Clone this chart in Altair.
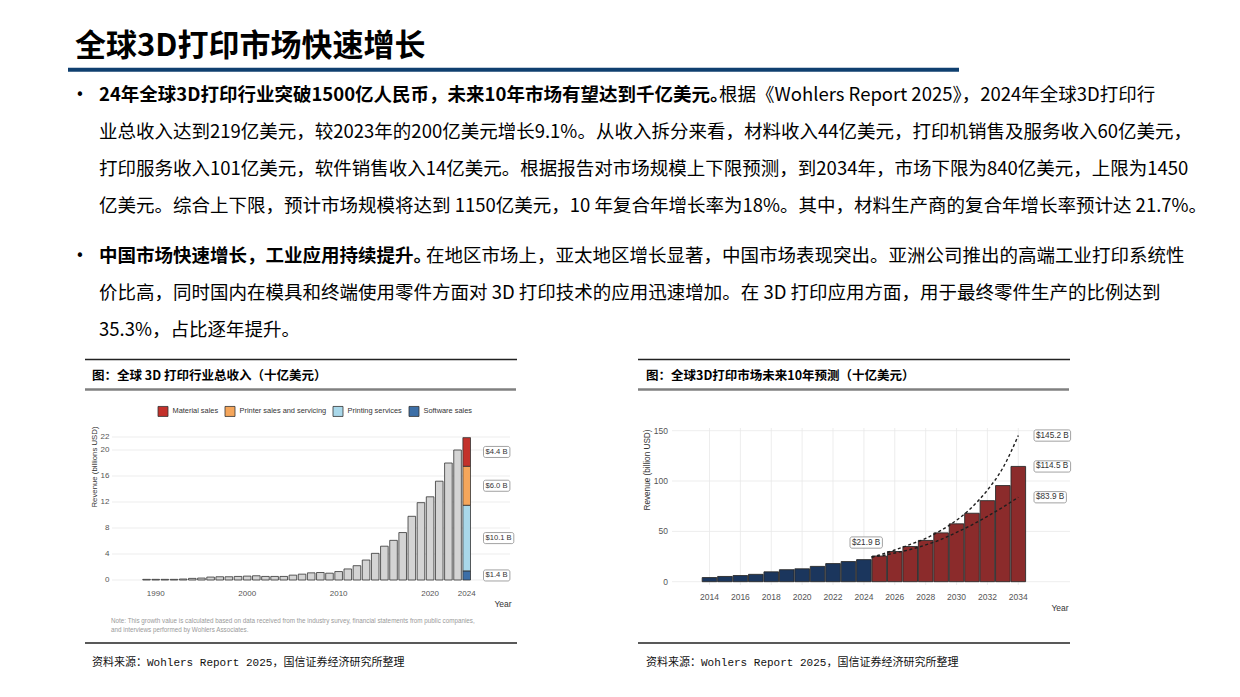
import altair as alt
import pandas as pd

# ---------------- text content ----------------
title_text = "全球3D打印市场快速增长"
p1_bold = "24年全球3D打印行业突破1500亿人民币，未来10年市场有望达到千亿美元。"
p1_rest = "根据《Wohlers Report 2025》，2024年全球3D打印行"
p1_lines = [
    "业总收入达到219亿美元，较2023年的200亿美元增长9.1%。从收入拆分来看，材料收入44亿美元，打印机销售及服务收入60亿美元，",
    "打印服务收入101亿美元，软件销售收入14亿美元。根据报告对市场规模上下限预测，到2034年，市场下限为840亿美元，上限为1450",
    "亿美元。综合上下限，预计市场规模将达到 1150亿美元，10 年复合年增长率为18%。其中，材料生产商的复合年增长率预计达 21.7%。",
]
p2_bold = "中国市场快速增长，工业应用持续提升。"
p2_rest = "在地区市场上，亚太地区增长显著，中国市场表现突出。亚洲公司推出的高端工业打印系统性"
p2_lines = [
    "价比高，同时国内在模具和终端使用零件方面对 3D 打印技术的应用迅速增加。在 3D 打印应用方面，用于最终零件生产的比例达到",
    "35.3%，占比逐年提升。",
]
left_title = "图：全球 3D 打印行业总收入（十亿美元）"
right_title = "图：全球3D打印市场未来10年预测（十亿美元）"
source_text = "资料来源：Wohlers Report 2025，国信证券经济研究所整理"
note_lines = [
    "Note: This growth value is calculated based on data received from the industry survey, financial statements from public companies,",
    "and interviews performed by Wohlers Associates.",
]

# ---------------- left chart data ----------------
hist_years = list(range(1989, 2024))
hist_rev = [0.1, 0.1, 0.1, 0.1, 0.15, 0.25, 0.3, 0.45, 0.5, 0.5, 0.55, 0.6, 0.65, 0.55,
            0.55, 0.55, 0.75, 0.9, 1.1, 1.15, 1.05, 1.3, 1.7, 2.2, 3.07, 4.1, 5.2, 6.1,
            7.3, 9.8, 11.9, 12.8, 15.2, 18.0, 20.0]
seg_year = 2024
seg_names = ["Material sales", "Printer sales and servicing", "Printing services", "Software sales"]
seg_colors = ["#c3312b", "#f5a65b", "#a9d8ea", "#3d6fa7"]
seg_values = [4.4, 6.0, 10.1, 1.4]
seg_labels = ["$4.4 B", "$6.0 B", "$10.1 B", "$1.4 B"]
left_yticks = [0, 4, 8, 12, 16, 20, 22]
left_xticks = [1990, 2000, 2010, 2020, 2024]

# ---------------- right chart data ----------------
fc_years = list(range(2014, 2035))
fc_rev = [4.1, 5.2, 6.1, 7.3, 9.8, 11.9, 12.8, 15.2, 18.0, 20.0, 21.9,
          25.5, 30.0, 35.0, 41.0, 48.5, 57.5, 68.0, 80.5, 95.5, 114.5]
fc_period = ["历史"] * 11 + ["预测"] * 10
period_names = ["历史", "预测"]
period_colors = ["#1b365d", "#8b2b2b"]
bound_years = [2024.5, 2025, 2026, 2027, 2028, 2029, 2030, 2031, 2032, 2033, 2034]
upper_vals = [24.5, 26.5, 31.5, 37.0, 43.0, 51.0, 61.0, 74.0, 91.0, 113.0, 145.2]
lower_vals = [24.5, 25.5, 28.5, 32.0, 36.5, 42.0, 49.0, 56.5, 65.0, 74.0, 83.9]
right_labels = ["$145.2 B", "$114.5 B", "$83.9 B", "$21.9 B"]
right_label_vals = [145.2, 114.5, 83.9, 21.9]
right_yticks = [0, 50, 100, 150]
right_xticks = list(range(2014, 2035, 2))

# ---------------- styles ----------------
CJK = "Noto Sans CJK SC"
SANS = "Liberation Sans"
MONO = "Liberation Mono, Noto Sans CJK SC"
M = 8  # page margin


def P(v):
    return v - M


def one(s=""):
    return alt.Data(values=[{"t": s}])


def text_at(s, x, y, size, weight="normal", color="#000000", font=CJK, align="left", angle=0):
    return alt.Chart(one(s)).mark_text(
        align=align, baseline="middle", fontSize=size, fontWeight=weight,
        color=color, font=font, angle=angle
    ).encode(x=alt.value(P(x)), y=alt.value(P(y)), text="t:N")


def hline(x1, x2, y, color, width):
    return alt.Chart(one()).mark_rule(color=color, strokeWidth=width).encode(
        x=alt.value(P(x1)), x2=alt.value(P(x2)), y=alt.value(P(y)))


layers = []
# header
layers.append(text_at(title_text, 75, 47, 31, weight="bold"))
layers.append(hline(68, 959, 69.7, "#0f3f6f", 4))
layers.append(text_at("•", 75.5, 95, 15, font="DejaVu Sans"))
layers.append(text_at(p1_bold, 99, 95, 18.5, weight="bold"))
layers.append(text_at(p1_rest, 719, 95, 18.5))
for i, s in enumerate(p1_lines):
    layers.append(text_at(s, 99, 132 + i * 37, 18.5))
layers.append(text_at("•", 75.5, 256, 15, font="DejaVu Sans"))
layers.append(text_at(p2_bold, 99, 256, 18.5, weight="bold"))
layers.append(text_at(p2_rest, 426, 256, 18.5))
for i, s in enumerate(p2_lines):
    layers.append(text_at(s, 99, 293 + i * 37, 18.5))

# panel frames
for (x1, x2, tx, ttl) in [(85, 517, 92, left_title), (638, 1070, 646, right_title)]:
    layers.append(hline(x1, x2, 359.5, "#222222", 1.3))
    layers.append(text_at(ttl, tx, 376, 12.5, weight="bold"))
    layers.append(hline(x1, x2 - 1, 389.5, "#808080", 2.6))
    layers.append(hline(x1, x2, 643, "#222222", 1.3))
    layers.append(text_at(source_text, tx, 663, 11, font=MONO, color="#111111"))

# ---------------- left chart ----------------
xL = alt.Scale(domain=[1990, 2024], range=[P(150.7), P(471.7)], zero=False, nice=False)
yL = alt.Scale(domain=[0, 22], range=[P(580), P(437)], zero=False, nice=False)

hist_df = pd.DataFrame({"year": hist_years, "rev": hist_rev})
order = list(reversed(range(len(seg_names))))  # bottom: software
cum = 0.0
rows = []
for idx in order:
    rows.append({"year": seg_year, "seg": seg_names[idx], "y0": cum,
                 "y1": cum + seg_values[idx], "label": seg_labels[idx]})
    cum += seg_values[idx]
seg_df = pd.DataFrame(rows)
seg_df["mid"] = (seg_df["y0"] + seg_df["y1"]) / 2

lgrid = alt.Chart(pd.DataFrame({"v": left_yticks})).mark_rule(color="#e8e8e8", strokeWidth=0.8).encode(
    x=alt.value(P(112)), x2=alt.value(P(510)), y=alt.Y("v:Q", scale=yL, axis=None))
lylab = alt.Chart(pd.DataFrame({"v": left_yticks})).mark_text(
    align="right", baseline="middle", fontSize=8, font=SANS, color="#555555").encode(
    x=alt.value(P(109.5)), y=alt.Y("v:Q", scale=yL, axis=None), text="v:Q")
lxlab = alt.Chart(pd.DataFrame({"v": left_xticks})).mark_text(
    align="center", baseline="middle", fontSize=8, font=SANS, color="#555555").encode(
    x=alt.X("v:Q", scale=xL, axis=None), y=alt.value(P(593.5)), text="v:N")
lbars = alt.Chart(hist_df).mark_bar(size=7.6, fill="#d4d4d4", stroke="#333333", strokeWidth=0.8).encode(
    x=alt.X("year:Q", scale=xL, axis=None), y=alt.Y("rev:Q", scale=yL, axis=None))
lstack = alt.Chart(seg_df).mark_bar(size=7.6, stroke="#333333", strokeWidth=0.8).encode(
    x=alt.X("year:Q", scale=xL, axis=None),
    y=alt.Y("y0:Q", scale=yL, axis=None), y2="y1:Q",
    color=alt.Color("seg:N", scale=alt.Scale(domain=seg_names, range=seg_colors),
                    legend=alt.Legend(orient="none", legendX=P(157.5), legendY=P(405.5),
                                      direction="horizontal", title=None, symbolType="square",
                                      symbolSize=100, symbolStrokeColor="#333333",
                                      symbolStrokeWidth=0.8, labelFontSize=7.4, labelFont=SANS,
                                      labelColor="#333333", columnPadding=4, labelOffset=4,
                                      padding=0, symbolOpacity=1)))
lbox = alt.Chart(seg_df).transform_calculate(
    lo="datum.mid - 0.85", hi="datum.mid + 0.85",
    bx0=str(P(483.5)), bx1=f"{P(483.5)} + length(datum.label) * 3.9 + 3").mark_rect(
    fill="#ffffff", stroke="#8a8a8a", strokeWidth=0.8, cornerRadius=2).encode(
    x=alt.X("bx0:Q", scale=None), x2="bx1:Q",
    y=alt.Y("lo:Q", scale=yL, axis=None), y2="hi:Q")
ltext = alt.Chart(seg_df).mark_text(align="left", baseline="middle", fontSize=7.6, font=SANS,
                                   color="#333333").encode(
    x=alt.value(P(485.5)), y=alt.Y("mid:Q", scale=yL, axis=None), text="label:N")

left = alt.layer(lgrid, lylab, lxlab, lbars, lstack, lbox, ltext)
layers.append(left)
layers.append(text_at("Revenue (billions USD)", 95, 467, 7.8, font=SANS, color="#333333", align="center", angle=270))
layers.append(text_at("Year", 503, 604, 8.5, font=SANS, color="#333333", align="center"))
for i, s in enumerate(note_lines):
    layers.append(text_at(s, 111, 621 + i * 8.5, 6.3, font=SANS, color="#9a9a9a"))

# ---------------- right chart ----------------
xR = alt.Scale(domain=[2014, 2034], range=[P(704.5), P(1023.3)], zero=False, nice=False)
yR = alt.Scale(domain=[0, 150], range=[P(581.7), P(430.7)], zero=False, nice=False)

fc_df = pd.DataFrame({"year": fc_years, "rev": fc_rev, "period": fc_period})
bnd_df = pd.DataFrame({
    "year": bound_years + bound_years,
    "v": upper_vals + lower_vals,
    "bound": ["upper"] * len(bound_years) + ["lower"] * len(bound_years)})
rl_df = pd.DataFrame({"label": right_labels, "v": right_label_vals})

rgrid_h = alt.Chart(pd.DataFrame({"v": right_yticks})).mark_rule(color="#e8e8e8", strokeWidth=0.8).encode(
    x=alt.value(P(672)), x2=alt.value(P(1070)), y=alt.Y("v:Q", scale=yR, axis=None))
rgrid_v = alt.Chart(pd.DataFrame({"v": right_xticks})).mark_rule(color="#e8e8e8", strokeWidth=0.8).encode(
    x=alt.X("v:Q", scale=xR, axis=None), y=alt.value(P(428)), y2=alt.value(P(585)))
rylab = alt.Chart(pd.DataFrame({"v": right_yticks})).mark_text(
    align="right", baseline="middle", fontSize=8.5, font=SANS, color="#555555").encode(
    x=alt.value(P(668)), y=alt.Y("v:Q", scale=yR, axis=None), text="v:Q")
rxlab = alt.Chart(pd.DataFrame({"v": right_xticks})).mark_text(
    align="center", baseline="middle", fontSize=8.5, font=SANS, color="#555555").encode(
    x=alt.X("v:Q", scale=xR, axis=None), y=alt.value(P(597)), text="v:N")
rbars = alt.Chart(fc_df).mark_bar(size=14.6, stroke="#2a2a2a", strokeWidth=0.9).encode(
    x=alt.X("year:Q", scale=xR, axis=None), y=alt.Y("rev:Q", scale=yR, axis=None),
    color=alt.Color("period:N", scale=alt.Scale(domain=period_names, range=period_colors), legend=None))
rlines = alt.Chart(bnd_df).mark_line(strokeDash=[3, 2.5], color="#1e1e1e", strokeWidth=1.4,
                                     interpolate="monotone").encode(
    x=alt.X("year:Q", scale=xR, axis=None), y=alt.Y("v:Q", scale=yR, axis=None), detail="bound:N")
rl_calc = dict(
    ly="datum.v < 30 ? datum.v + 17 : datum.v",
    lo="(datum.v < 30 ? datum.v + 17 : datum.v) - 5.6",
    hi="(datum.v < 30 ? datum.v + 17 : datum.v) + 5.6",
    bx0=f"datum.v < 30 ? {P(850)} : {P(1034)}",
    bx1=f"(datum.v < 30 ? {P(850)} : {P(1034)}) + length(datum.label) * 4.2 + 3",
    tx=f"(datum.v < 30 ? {P(850)} : {P(1034)}) + 2",
)
rbox = alt.Chart(rl_df).transform_calculate(**rl_calc).mark_rect(
    fill="#ffffff", stroke="#8a8a8a", strokeWidth=0.8, cornerRadius=2).encode(
    x=alt.X("bx0:Q", scale=None), x2="bx1:Q",
    y=alt.Y("lo:Q", scale=yR, axis=None), y2="hi:Q")
rtext = alt.Chart(rl_df).transform_calculate(**rl_calc).mark_text(
    align="left", baseline="middle", fontSize=8.2, font=SANS, color="#333333").encode(
    x=alt.X("tx:Q", scale=None), y=alt.Y("ly:Q", scale=yR, axis=None), text="label:N")

right = alt.layer(rgrid_h, rgrid_v, rylab, rxlab, rbars, rlines, rbox, rtext)
layers.append(right)
layers.append(text_at("Revenue (billion USD)", 648, 470, 8.2, font=SANS, color="#333333", align="center", angle=270))
layers.append(text_at("Year", 1060, 608, 8.5, font=SANS, color="#333333", align="center"))

chart = alt.layer(*layers).resolve_scale(
    x="independent", y="independent", color="independent"
).properties(
    width=1224, height=681, autosize=alt.AutoSizeParams(type="none"), padding=0
).configure_view(stroke=None)

chart.save("out.html", embed_options={"renderer": "svg", "actions": False})
